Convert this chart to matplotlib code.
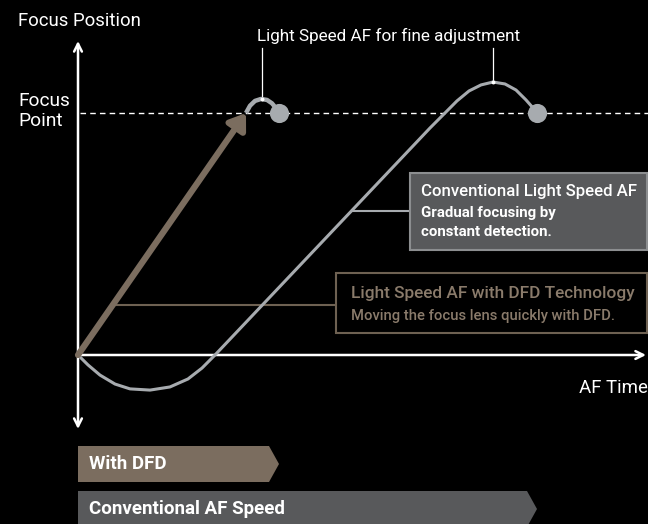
import matplotlib
matplotlib.use("Agg")
import matplotlib.pyplot as plt
from matplotlib.patches import Polygon, Rectangle

plt.rcParams['font.family'] = ['Roboto', 'DejaVu Sans']

# time (arbitrary units) and focus position (1.0 = focus point)
dfd_t = [0.0, 16.8]
dfd_y = [0.0, 1.0]
dfd_fine_t = [16.8, 17.2, 17.7, 18.3, 18.9, 19.4, 19.8, 20.1]
dfd_fine_y = [1.0, 1.030, 1.050, 1.058, 1.054, 1.040, 1.020, 1.0]
dfd_done = 20.1

conv_t = [0.0, 1.0, 2.2, 3.7, 5.2, 7.2, 9.2, 11.0, 12.4, 13.7,
          35.2, 36.6, 37.9, 39.1, 40.3, 41.5, 42.7, 43.8, 44.8, 45.5, 45.9]
conv_y = [0.0, -0.041, -0.083, -0.120, -0.140, -0.145, -0.132, -0.099, -0.054, 0.0,
          0.938, 0.996, 1.050, 1.091, 1.116, 1.128, 1.120, 1.095, 1.054, 1.021, 1.0]
conv_done = 45.9

dfd_peak = (18.4, 1.058)
conv_peak = (41.5, 1.128)

BROWN = '#7b6d5f'
BROWN_LINE = '#6e6152'
BROWN_TEXT = '#8a7b6b'
GREY = '#a7abaf'
DARK = '#58595b'

W, H = 648, 524
fig = plt.figure(figsize=(W / 100, H / 100), dpi=100, facecolor='black')
ax = fig.add_axes([0, 0, 1, 1])
ax.set_facecolor('black')

# pixel layout -> data units
X0, Y0, XS, YS = 78, 355, 10.0, 242.0
def P(px, py):
    return ((px - X0) / XS, (Y0 - py) / YS)

ax.set_xlim(P(0, 0)[0], P(W, 0)[0])
ax.set_ylim(P(0, H)[1], P(0, 0)[1])
ax.axis('off')

# axes arrows
ax.annotate('', xy=P(78, 41), xytext=P(78, 429),
            arrowprops=dict(arrowstyle='<->', color='white', lw=1.8,
                            mutation_scale=14, shrinkA=0, shrinkB=0))
ax.annotate('', xy=P(646, 355), xytext=(0, 0),
            arrowprops=dict(arrowstyle='->', color='white', lw=1.8,
                            mutation_scale=14, shrinkA=0, shrinkB=0))

# focus point dashed line
ax.plot([P(80, 0)[0], P(W, 0)[0]], [1.0, 1.0], color='white', lw=1.0,
        dashes=(4, 3), zorder=2)

# conventional curve
ax.plot(conv_t, conv_y, color=GREY, lw=2.2, solid_joinstyle='round',
        solid_capstyle='round', zorder=3)
ax.scatter([conv_done], [1.0], s=190, color=GREY, zorder=4, linewidths=0)

# DFD arrow + fine adjustment
ax.annotate('', xy=(dfd_t[1], dfd_y[1]), xytext=(dfd_t[0], dfd_y[0]),
            arrowprops=dict(arrowstyle='-|>,head_length=0.5,head_width=0.35',
                            color=BROWN, lw=4.5, mutation_scale=18,
                            shrinkA=0, shrinkB=0), zorder=5)
ax.plot(dfd_fine_t, dfd_fine_y, color=GREY, lw=3.2, solid_capstyle='butt', zorder=4)
ax.scatter([dfd_done], [1.0], s=190, color=GREY, zorder=4, linewidths=0)

# leaders to the top caption
for pk in (dfd_peak, conv_peak):
    ax.plot([pk[0], pk[0]], [pk[1], P(0, 48)[1]], color='white', lw=0.9, zorder=2)
    ax.scatter([pk[0]], [pk[1]], s=8, color='white', zorder=6, linewidths=0)
ax.text(*P(389, 36), 'Light Speed AF for fine adjustment', color='white',
        fontsize=12.3, ha='center', va='center')

# axis labels
ax.text(*P(18, 21), 'Focus Position', color='white', fontsize=13.4, va='center')
ax.text(*P(18, 111), 'Focus\nPoint', color='white', fontsize=13.8, va='center',
        linespacing=1.15)
ax.text(*P(648, 388), 'AF Time', color='white', fontsize=13.4, va='center', ha='right')

# conventional callout
cy = P(0, 211)[1]
ax.plot([P(352, 0)[0], P(410, 0)[0]], [cy, cy], color=GREY, lw=1.5, zorder=2)
bx0, by0 = P(410, 250)
bx1, by1 = P(647, 173)
ax.add_patch(Rectangle((bx0, by0), bx1 - bx0, by1 - by0, facecolor=DARK,
                       edgecolor='#8c8e90', lw=1.5, zorder=3))
ax.text(*P(421, 191), 'Conventional Light Speed AF', color='white', fontsize=12.1,
        fontweight='medium', va='center', zorder=4)
ax.text(*P(421, 213), 'Gradual focusing by', color='white', fontsize=10.8,
        fontweight='bold', va='center', zorder=4)
ax.text(*P(421, 232), 'constant detection.', color='white', fontsize=10.8,
        fontweight='bold', va='center', zorder=4)

# DFD callout
dy = P(0, 305)[1]
ax.plot([dy * dfd_t[1] / dfd_y[1], P(336, 0)[0]], [dy, dy], color=BROWN_LINE, lw=1.5, zorder=2)
bx0, by0 = P(336, 333)
bx1, by1 = P(647, 273)
ax.add_patch(Rectangle((bx0, by0), bx1 - bx0, by1 - by0, facecolor='black',
                       edgecolor=BROWN_LINE, lw=1.5, zorder=3))
ax.text(*P(351, 293), 'Light Speed AF with DFD Technology', color=BROWN_TEXT,
        fontsize=12.4, fontweight='medium', va='center', zorder=4)
ax.text(*P(351, 316), 'Moving the focus lens quickly with DFD.', color=BROWN_TEXT,
        fontsize=10.6, fontweight='medium', va='center', zorder=4)

# speed bars
bars = [('With DFD', dfd_done, BROWN, 446, 482),
        ('Conventional AF Speed', conv_done, DARK, 491, 527)]
tip = 1.0
for label, end, col, top, bot in bars:
    yt, yb = P(0, top)[1], P(0, bot)[1]
    ym = (yt + yb) / 2
    ax.add_patch(Polygon([(0, yt), (end - tip, yt), (end, ym), (end - tip, yb), (0, yb)],
                         closed=True, facecolor=col, edgecolor='none', zorder=3))
    ax.text(P(89, 0)[0], ym, label, color='white', fontsize=13.5, fontweight='bold',
            va='center', zorder=4)

fig.savefig('out.png', dpi=100, facecolor='black')
